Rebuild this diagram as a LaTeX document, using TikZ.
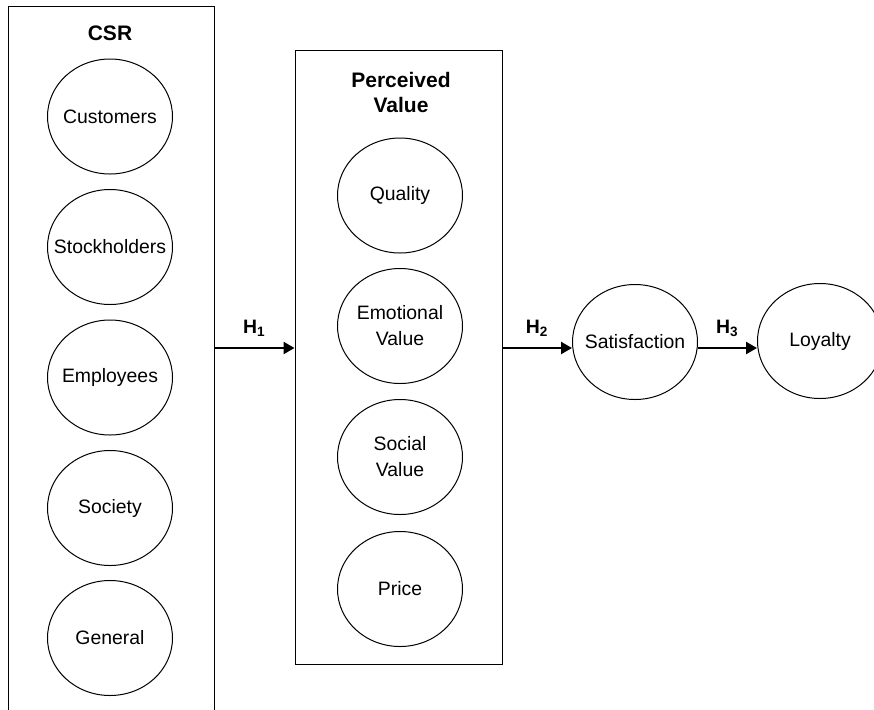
\documentclass[tikz,border=0pt]{standalone}
\usepackage{fontspec}
\setmainfont{Liberation Sans}
\usetikzlibrary{shapes.geometric,arrows.meta}

\tikzset{
  oval/.style={ellipse,draw,line width=.5pt,minimum width=62.5pt,minimum height=57.5pt,inner sep=0pt},
  frame/.style={draw,line width=.5pt,inner sep=0pt},
  title/.style={font=\fontsize{10.5}{12.5}\selectfont\bfseries,align=center},
  hyp/.style={font=\fontsize{9.7}{11}\selectfont\bfseries},
  arr/.style={->,line width=1.2pt},
}

\begin{document}
\begin{tikzpicture}[x=.5pt,y=-.5pt,font=\fontsize{9.7}{13}\selectfont,>={Triangle[length=5.5pt,width=6pt]}]
	\useasboundingbox (0,0) rectangle (874,709);
	\clip (0,0) rectangle (874,709);
	% CSR
	\node[frame,minimum width=103pt,minimum height=362pt] (csr) at (111,368) {};
	\node[title] (csrtitle) at (110,33) {CSR};
	\node[oval,label=center:Customers] (cust) at (110,116.5) {};
	\node[oval,label=center:Stockholders] (stock) at (110,247) {};
	\node[oval,label=center:Employees] (empl) at (110,377.5) {};
	\node[oval,label=center:Society] (soc) at (110,508) {};
	\node[oval,label=center:General] (gen) at (110,638) {};
	% perceived value
	\node[frame,minimum width=103.5pt,minimum height=307pt] (pv) at (398.5,357) {};
	\node[title] (pvtitle) at (401,92.5) {Perceived\\Value};
	\node[oval,label=center:Quality] (qual) at (400,195.5) {};
	\node[oval,label={[align=center]center:Emotional\\Value}] (emo) at (400,326) {};
	\node[oval,label={[align=center]center:Social\\Value}] (social) at (400,457) {};
	\node[oval,label=center:Price] (price) at (400,589) {};
	% outcomes
	\node[oval,label=center:Satisfaction] (sat) at (635,342) {};
	\node[oval,label=center:Loyalty] (loy) at (820,341) {};
	% hypotheses
	\coordinate (hy) at (0,348);
	\draw[arr] (csr.east |- hy) -- node[hyp,midway,yshift=10pt] {H\textsubscript{1}} (pv.west |- hy);
	\draw[arr] (pv.east |- hy) -- node[hyp,midway,yshift=10pt] {H\textsubscript{2}} (sat.west |- hy);
	\draw[arr] (sat.east |- hy) -- node[hyp,midway,yshift=10pt] {H\textsubscript{3}} (loy.west |- hy);
\end{tikzpicture}
\end{document}
